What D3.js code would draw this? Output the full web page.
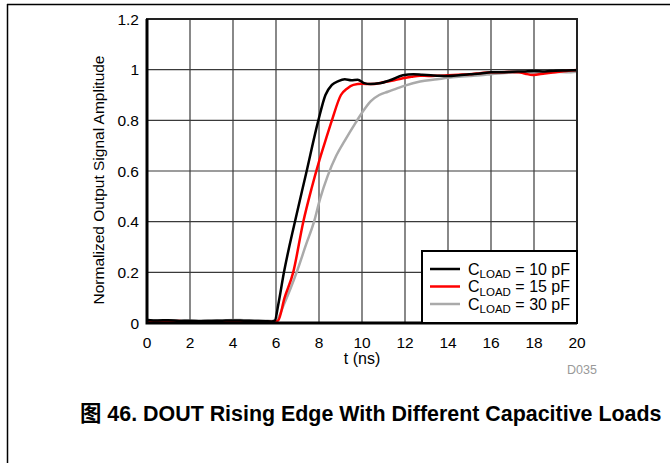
<!DOCTYPE html>
<html lang="en">
<head>
  <meta charset="UTF-8">
  <title>DOUT Rising Edge</title>
  <script src="https://d3js.org/d3.v7.min.js"></script>
  <style>
    body { margin: 0; background: #fff; }
    text { font-family: "Liberation Sans", Arial, sans-serif; }
    .tick-label { font-size: 15.5px; fill: #000; }
    .grid line { stroke: #3a3a3a; stroke-width: 1.2; }
  </style>
</head>
<body>
  <div id="chart"></div>

  <script>
    const xTicks = [0, 2, 4, 6, 8, 10, 12, 14, 16, 18, 20];
    const yTicks = [0, 0.2, 0.4, 0.6, 0.8, 1, 1.2];

    // C_LOAD = 10 pF
    const t10 = [0, 0.5, 1, 1.5, 2, 2.5, 3, 3.5, 4, 4.5, 5, 5.5, 5.8, 5.95, 6.1, 6.37, 6.88, 7.4, 7.97, 8.3, 8.6, 8.9, 9.2, 9.5, 9.8, 10.1, 10.4, 10.8, 11.3, 11.9, 12.4, 12.8, 13.2, 13.6, 14, 14.5, 15, 15.5, 16, 16.5, 17, 17.5, 18, 18.5, 19, 19.5, 20];
    const v10 = [0.012, 0.01, 0.011, 0.008, 0.009, 0.007, 0.008, 0.009, 0.01, 0.009, 0.008, 0.007, 0.006, 0.01, 0.07, 0.2, 0.4, 0.59, 0.8, 0.9, 0.94, 0.955, 0.962, 0.958, 0.96, 0.947, 0.943, 0.946, 0.958, 0.978, 0.982, 0.98, 0.978, 0.976, 0.975, 0.978, 0.982, 0.985, 0.99, 0.99, 0.992, 0.993, 0.995, 0.993, 0.996, 0.997, 0.998];

    // C_LOAD = 15 pF
    const t15 = [0, 0.5, 1, 1.5, 2, 2.5, 3, 3.5, 4, 4.5, 5, 5.5, 5.9, 6.1, 6.4, 6.8, 7.27, 7.65, 8.02, 8.3, 8.6, 9.02, 9.3, 9.6, 10.0, 10.4, 11.0, 11.5, 11.9, 12.3, 12.7, 13.1, 13.5, 14, 14.5, 15, 15.5, 16, 16.5, 17, 17.3, 17.6, 17.95, 18.5, 19, 19.5, 20];
    const v15 = [0.006, 0.007, 0.005, 0.008, 0.004, 0.006, 0.007, 0.005, 0.006, 0.007, 0.005, 0.006, 0.004, 0.01, 0.1, 0.2, 0.4, 0.53, 0.643, 0.72, 0.8, 0.9, 0.925, 0.94, 0.944, 0.943, 0.95, 0.958, 0.966, 0.972, 0.976, 0.975, 0.976, 0.978, 0.98, 0.982, 0.986, 0.99, 0.99, 0.991, 0.99, 0.984, 0.979, 0.985, 0.99, 0.995, 0.999];

    // C_LOAD = 30 pF
    const t30 = [0, 0.5, 1, 1.5, 2, 2.5, 3, 3.5, 4, 4.5, 5, 5.5, 5.8, 6.0, 6.4, 6.96, 7.4, 7.77, 8.05, 8.4, 8.8, 9.2, 9.7, 10.0, 10.4, 10.8, 11.2, 11.6, 12.0, 12.7, 13.5, 14, 14.5, 15, 15.5, 16, 16.5, 17, 17.5, 18, 18.5, 19, 19.5, 20];
    const v30 = [0.012, 0.01, 0.011, 0.01, 0.009, 0.01, 0.011, 0.01, 0.012, 0.011, 0.01, 0.009, 0.008, 0.01, 0.08, 0.2, 0.31, 0.4, 0.49, 0.58, 0.66, 0.72, 0.79, 0.83, 0.875, 0.9, 0.913, 0.925, 0.937, 0.953, 0.962, 0.968, 0.972, 0.975, 0.978, 0.982, 0.986, 0.988, 0.99, 0.988, 0.99, 0.991, 0.99, 0.992];

    const seriesNames = ["10 pF", "15 pF", "30 pF"];
    const seriesColors = ["#000000", "#ff0000", "#aaaaaa"];

    const series = [
      { name: seriesNames[0], color: seriesColors[0], pts: t10.map((t, i) => [t, v10[i]]) },
      { name: seriesNames[1], color: seriesColors[1], pts: t15.map((t, i) => [t, v15[i]]) },
      { name: seriesNames[2], color: seriesColors[2], pts: t30.map((t, i) => [t, v30[i]]) }
    ];

    const W = 670, H = 463;
    const plot = { left: 147, right: 577, top: 19, bottom: 323 };

    const svg = d3.select("#chart")
      .append("svg")
      .attr("width", W)
      .attr("height", H);

    // page frame (top and left rules)
    svg.append("line").attr("x1", 7).attr("x2", W).attr("y1", 4.5).attr("y2", 4.5)
      .attr("stroke", "#000").attr("stroke-width", 1.5);
    svg.append("line").attr("x1", 7.5).attr("x2", 7.5).attr("y1", 4).attr("y2", H)
      .attr("stroke", "#000").attr("stroke-width", 1.5);

    const x = d3.scaleLinear().domain([0, 20]).range([plot.left, plot.right]);
    const y = d3.scaleLinear().domain([0, 1.2]).range([plot.bottom, plot.top]);

    // grid
    const grid = svg.append("g").attr("class", "grid");
    grid.selectAll(".vx").data(xTicks.slice(1, -1)).enter().append("line")
      .attr("x1", d => x(d)).attr("x2", d => x(d))
      .attr("y1", plot.top).attr("y2", plot.bottom);
    grid.selectAll(".hy").data(yTicks.slice(1, -1)).enter().append("line")
      .attr("x1", plot.left).attr("x2", plot.right)
      .attr("y1", d => y(d)).attr("y2", d => y(d));

    // tick labels
    svg.selectAll(".xl").data(xTicks).enter().append("text")
      .attr("class", "tick-label")
      .attr("x", d => x(d)).attr("y", 348)
      .attr("text-anchor", "middle")
      .text(d => d);
    svg.selectAll(".yl").data(yTicks).enter().append("text")
      .attr("class", "tick-label")
      .attr("x", 139).attr("y", d => y(d) + 5.5)
      .attr("text-anchor", "end")
      .text(d => d);

    // curves
    const line = d3.line()
      .x(d => x(d[0]))
      .y(d => y(d[1]))
      .curve(d3.curveMonotoneX);

    svg.selectAll(".curve").data(series.slice().reverse()).enter().append("path")
      .attr("d", d => line(d.pts))
      .attr("fill", "none")
      .attr("stroke", d => d.color)
      .attr("stroke-width", 2.5)
      .attr("stroke-linejoin", "round");

    // plot border
    svg.append("rect")
      .attr("x", plot.left).attr("y", plot.top)
      .attr("width", plot.right - plot.left).attr("height", plot.bottom - plot.top)
      .attr("fill", "none").attr("stroke", "#222").attr("stroke-width", 2);
    svg.append("path")
      .attr("d", `M${plot.left},${plot.top}V${plot.bottom}H${plot.right}`)
      .attr("fill", "none").attr("stroke", "#000").attr("stroke-width", 3);

    // legend
    const lg = svg.append("g");
    lg.append("rect")
      .attr("x", 422).attr("y", 251).attr("width", 155).attr("height", 72)
      .attr("fill", "#fff").attr("stroke", "#000").attr("stroke-width", 2);
    series.forEach((s, i) => {
      const ly = 269 + i * 17.5;
      lg.append("line").attr("x1", 430).attr("x2", 460).attr("y1", ly).attr("y2", ly)
        .attr("stroke", s.color).attr("stroke-width", 2.5);
      const t = lg.append("text").attr("x", 468).attr("y", ly + 5.5).attr("font-size", 16);
      t.append("tspan").text("C");
      t.append("tspan").attr("font-size", 11.5).attr("dy", 3.5).text("LOAD");
      t.append("tspan").attr("dy", -3.5).text(" = " + s.name);
    });

    // axis titles
    svg.append("text")
      .attr("x", (plot.left + plot.right) / 2).attr("y", 364)
      .attr("text-anchor", "middle").attr("font-size", 16)
      .text("t (ns)");
    svg.append("text")
      .attr("transform", `translate(104,180) rotate(-90)`)
      .attr("text-anchor", "middle").attr("font-size", 15.5)
      .text("Normalized Output Signal Amplitude");

    svg.append("text")
      .attr("x", 567).attr("y", 374).attr("font-size", 12.5).attr("fill", "#999")
      .text("D035");

    // caption, sized to span the same width as the original
    const cap = svg.append("text")
      .attr("x", 80).attr("y", 421)
      .attr("font-size", 20).attr("font-weight", "bold");
    cap.append("tspan").attr("font-family", "'Noto Sans CJK SC'").text("图");
    cap.append("tspan").text(" 46. DOUT Rising Edge With Different Capacitive Loads");
    const w = cap.node().getComputedTextLength();
    cap.attr("font-size", 20 * 582 / w);
  </script>
</body>
</html>
